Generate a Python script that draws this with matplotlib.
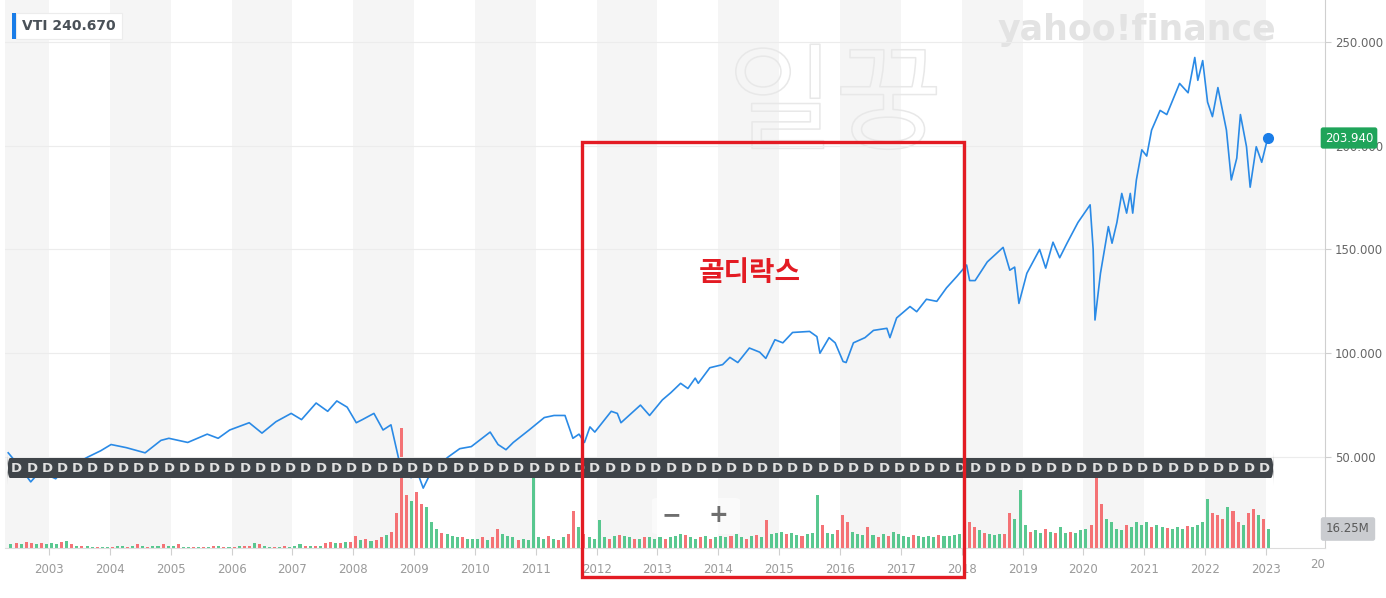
import numpy as np
import matplotlib
matplotlib.use('Agg')
import matplotlib.pyplot as plt
import matplotlib.patches as mpatches
import matplotlib.patheffects as pe
import matplotlib.transforms as mtransforms

plt.rcParams['font.family'] = ['DejaVu Sans']
KR = ['Noto Sans CJK KR', 'DejaVu Sans']

# --- data (VTI, 2002-2023) ---
price_t = [2002.33, 2002.50, 2002.70, 2002.85, 2003.00, 2003.11, 2003.25, 2003.45, 2003.64, 2003.85,
           2004.02, 2004.27, 2004.58, 2004.84, 2004.97, 2005.28, 2005.60, 2005.78, 2005.97, 2006.29,
           2006.50, 2006.73, 2006.98, 2007.15, 2007.39, 2007.58, 2007.73, 2007.90, 2008.05, 2008.15,
           2008.34, 2008.49, 2008.62, 2008.74, 2008.80, 2008.88, 2008.95, 2009.05, 2009.15, 2009.25,
           2009.40, 2009.56, 2009.75, 2009.94, 2010.25, 2010.38, 2010.51, 2010.63, 2010.89, 2011.14,
           2011.30, 2011.48, 2011.61, 2011.71, 2011.80, 2011.89, 2011.97, 2012.24, 2012.34, 2012.40,
           2012.72, 2012.87, 2013.08, 2013.22, 2013.38, 2013.50, 2013.62, 2013.67, 2013.86, 2014.07,
           2014.19, 2014.32, 2014.51, 2014.68, 2014.78, 2014.93, 2015.06, 2015.22, 2015.50, 2015.62,
           2015.67, 2015.82, 2015.92, 2016.05, 2016.10, 2016.22, 2016.41, 2016.55, 2016.77, 2016.82,
           2016.93, 2017.15, 2017.26, 2017.42, 2017.59, 2017.75, 2017.92, 2018.08, 2018.13, 2018.22,
           2018.42, 2018.68, 2018.79, 2018.87, 2018.94, 2019.07, 2019.28, 2019.38, 2019.50, 2019.61,
           2019.73, 2019.91, 2020.11, 2020.16, 2020.19, 2020.28, 2020.41, 2020.47, 2020.55, 2020.63,
           2020.71, 2020.77, 2020.81, 2020.87, 2020.96, 2021.04, 2021.12, 2021.26, 2021.37, 2021.58,
           2021.72, 2021.83, 2021.88, 2021.96, 2022.04, 2022.12, 2022.21, 2022.35, 2022.43, 2022.52,
           2022.58, 2022.68, 2022.74, 2022.84, 2022.93, 2023.01, 2023.04]
price_v = [52, 46, 38, 43, 41, 39.5, 44, 47, 50, 53,
           56, 54.5, 52, 58, 59, 57, 61, 59, 63, 66.5,
           61.5, 67, 71, 68, 76, 72, 77, 74, 66.5, 68,
           71, 63, 65.5, 50, 42, 45, 40, 43, 35, 41,
           46, 50, 54, 55, 62, 56, 53.5, 57, 63, 69,
           70, 70, 59, 61, 57, 64.5, 62, 72, 71, 66.5,
           75, 70, 77.5, 81, 85.5, 83, 88, 85.5, 93, 94.5,
           98, 95.5, 102.5, 100.5, 97.5, 106.5, 105, 110, 110.5, 108,
           100, 107.5, 105, 96, 95.5, 105, 107.5, 111, 112, 107.5,
           117, 122.5, 120, 126, 125, 131.5, 137, 142.5, 135, 135,
           144, 151, 140, 141.5, 124, 138.5, 150, 141, 153.5, 146,
           153, 163, 171.5, 150, 116, 138.5, 161, 153, 163, 177,
           167.5, 177, 167.5, 183.5, 198, 195, 207.5, 217, 215, 230,
           225.5, 242.5, 231.5, 241, 221, 214, 228, 207.5, 183.5, 194,
           215, 199.5, 180, 199.5, 192, 201.5, 203.94]

# monthly volume (millions), May 2002 .. Jan 2023
vol_start = 2002 + 4 / 12
volume = ([3, 4, 3, 5, 4, 3, 4, 3] +
          [4, 3, 5, 6, 3, 2, 2, 2, 1, 1, 1, 1] +
          [1, 2, 2, 1, 2, 3, 2, 1, 2, 2, 3, 2] +
          [2, 3, 1, 1, 1, 1, 1, 1, 2, 2, 1, 1] +
          [1, 2, 2, 2, 4, 3, 2, 1, 1, 1, 2, 1] +
          [2, 3, 2, 2, 2, 2, 4, 5, 4, 4, 5, 5] +
          [10, 7, 8, 6, 7, 9, 11, 14, 30, 103, 45, 40] +
          [48, 38, 35, 22, 16, 13, 12, 10, 9, 9, 8, 8] +
          [8, 9, 7, 9, 16, 12, 10, 9, 7, 8, 7, 60] +
          [9, 8, 10, 8, 7, 9, 12, 32, 18, 12, 9, 8] +
          [24, 9, 8, 10, 11, 10, 9, 8, 8, 9, 9, 8] +
          [9, 8, 9, 10, 12, 11, 9, 8, 9, 10, 8, 9] +
          [10, 9, 10, 12, 9, 8, 10, 11, 9, 24, 12, 13] +
          [14, 12, 13, 11, 10, 12, 13, 45, 20, 13, 12, 15] +
          [28, 22, 14, 12, 11, 18, 11, 9, 12, 10, 14, 12] +
          [10, 9, 11, 10, 9, 10, 9, 11, 10, 10, 11, 12] +
          [14, 22, 18, 15, 13, 12, 11, 12, 12, 30, 25, 50] +
          [20, 14, 15, 13, 16, 14, 13, 18, 13, 14, 13, 15] +
          [16, 20, 60, 38, 25, 22, 16, 15, 20, 18, 22, 20] +
          [22, 18, 20, 18, 17, 16, 18, 16, 19, 18, 20, 22] +
          [42, 30, 28, 25, 35, 32, 22, 20, 30, 33, 28, 25] +
          [16])
vol_dir = ('grgrrgrg' + 'ggrgrgrggrgg' + 'rggrgrgrggrg' + 'grggrgrgrgrg' + 'rgrrgrggrgrg' +
           'ggrgrgrrgrgr' + 'rgrgrrgrrrrg' + 'rrgggrgggrgg' + 'grgrrgggrggg' + 'ggrgrgrrgrgg' +
           'ggrgrggrgrgg' + 'grgggrggrgrg' + 'ggrggrgrgrgg' + 'grggrgggrggr' + 'rrgggrgrgrgg' +
           'ggrggggrgggg' + 'grrgrgggrrgg' + 'grggrgrggrgg' + 'grrrggggrggg' + 'grggrgggrggg' +
           'grrrgrrgrrgr' + 'g')

div_months = [0.22, 0.47, 0.72, 0.97]   # quarterly dividend marks ("D")
div_t = [y + m for y in range(2002, 2023) for m in div_months if 2002.4 < y + m < 2023.1]

year_ticks = list(range(2003, 2024))
price_ticks = [50, 100, 150, 200, 250]
last_price = '203.940'
hover_label = 'VTI 240.670'
last_volume = '16.25M'

# --- figure ---
W, H = 1386, 598
fig = plt.figure(figsize=(W / 100, H / 100), dpi=100)
fig.patch.set_facecolor('white')

def fx(px):
    return px / W

def fy(py):
    return 1 - py / H

ax = fig.add_axes([fx(5), fy(548), fx(1320), 548 / H])
ax2 = ax.twinx()
ax.set_zorder(2)
ax.patch.set_visible(False)

ax.set_xlim(2002.277, 2023.97)
ax.set_ylim(6.14, 270.2)
ax2.set_ylim(0, 468.7)

# year shading (even years grey)
for y in range(2002, 2024, 2):
    ax2.axvspan(y, y + 1, color='#f5f5f5', lw=0, zorder=0)

# volume bars
vt = [vol_start + (i + 0.5) / 12 for i in range(len(volume))]
vc = ['#3dbf7d' if d == 'g' else '#f45b5f' for d in vol_dir]
ax2.bar(vt, volume, width=1 / 12 * 0.6, color=vc, alpha=0.85, lw=0, zorder=1)
ax2.set_yticks([])
for s in ax2.spines.values():
    s.set_visible(False)

# grid + price line
for p in price_ticks:
    ax.axhline(p, color='#ececec', lw=0.8, zorder=1)
ax.plot(price_t, price_v, color='#2a8ae6', lw=1.2, zorder=4)
ax.plot(price_t[-1], price_v[-1], 'o', color='#1a7de8', ms=7, zorder=5)

# dividend band
trans = mtransforms.blended_transform_factory(ax.transData, ax.transAxes)
band = mpatches.FancyBboxPatch((min(div_t) - 0.16, (548 - 478) / 548),
                               max(div_t) - min(div_t) + 0.32, 20 / 548,
                               boxstyle='round,pad=0,rounding_size=0.05',
                               transform=trans, facecolor='#3f4449', edgecolor='none', zorder=6)
ax.add_patch(band)
for t in div_t:
    ax.text(t, (548 - 468) / 548, 'D', transform=trans, ha='center', va='center',
            fontsize=9.5, fontweight='bold', color='#e0e0e0', zorder=7)

# axes styling
for k in ['top', 'left']:
    ax.spines[k].set_visible(False)
ax.spines['right'].set_color('#cfcfcf')
ax.spines['bottom'].set_color('#dcdcdc')
ax.yaxis.tick_right()
ax.set_yticks(price_ticks)
ax.set_yticklabels([f'{p:.3f}' for p in price_ticks])
ax.tick_params(axis='y', length=4, color='#cfcfcf', labelcolor='#666666', labelsize=8.5, pad=3)
ax.set_xticks(year_ticks)
ax.set_xticklabels([str(y) for y in year_ticks])
ax.tick_params(axis='x', length=5, color='#d0d0d0', labelcolor='#9a9a9a', labelsize=8.5, pad=6)
fig.text(fx(1325), fy(565), '20', ha='right', va='center', fontsize=8.5, color='#9a9a9a')

# watermarks
fig.text(fx(1137), fy(30), 'yahoo!finance', ha='center', va='center', fontsize=25,
         fontweight='bold', color='#e3e3e3', zorder=1)
fig.text(fx(835), fy(108), '일꿍', ha='center', va='center', fontsize=84, family=KR,
         color=(1, 1, 1, 0), zorder=1,
         path_effects=[pe.Stroke(linewidth=1.1, foreground='#e8e8e8')])

# hover label top-left
fig.text(fx(22), fy(26), hover_label, ha='left', va='center', fontsize=10, fontweight='bold',
         color='#4a5158', zorder=10,
         bbox=dict(boxstyle='square,pad=0.45', facecolor='white', edgecolor='#ececec', lw=0.8))
fig.add_artist(mpatches.Rectangle((fx(12), fy(39)), fx(4), 26 / H, transform=fig.transFigure,
                                  facecolor='#1a7de8', edgecolor='none', zorder=11))

# last price / volume tags
fig.text(fx(1349), fy(138), last_price, ha='center', va='center', fontsize=8.5, color='white',
         zorder=10, bbox=dict(boxstyle='round,pad=0.35,rounding_size=0.2', facecolor='#1fa45a',
                              edgecolor='none'))
fig.text(fx(1348), fy(529), last_volume, ha='center', va='center', fontsize=8.5, color='#5a5a5a',
         zorder=10, bbox=dict(boxstyle='round,pad=0.45,rounding_size=0.2', facecolor='#caccd0',
                              edgecolor='none'))

# zoom buttons
fig.add_artist(mpatches.FancyBboxPatch((fx(652), fy(534)), fx(88), 36 / H,
                                       boxstyle='round,pad=0,rounding_size=0.004',
                                       transform=fig.transFigure, facecolor='white', alpha=0.55,
                                       edgecolor='none', zorder=8))
fig.text(fx(671), fy(515), '−', ha='center', va='center', fontsize=17, fontweight='bold',
         color='#6e6e6e', zorder=9)
fig.text(fx(718), fy(515), '+', ha='center', va='center', fontsize=17, fontweight='bold',
         color='#6e6e6e', zorder=9)

# annotation box
fig.add_artist(mpatches.Rectangle((fx(582), fy(577)), fx(964 - 582), (577 - 142) / H,
                                  transform=fig.transFigure, fill=False, edgecolor='#e31b23',
                                  lw=2.4, zorder=12))
fig.text(fx(750), fy(273), '골디락스', ha='center', va='center', fontsize=20, fontweight='bold',
         family=KR, color='#e31b23', zorder=12)

fig.savefig('out.png', dpi=100)
